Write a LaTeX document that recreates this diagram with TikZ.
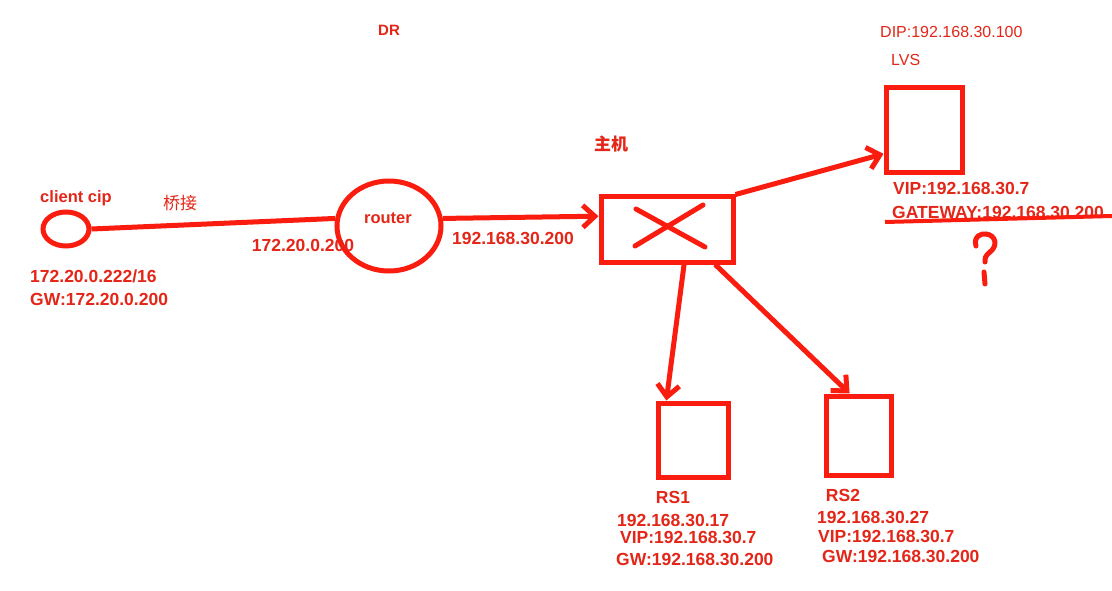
\documentclass[tikz,border=0pt]{standalone}
\usepackage{fontspec}
\setmainfont{Liberation Sans}
\newfontfamily\cjk{Noto Sans CJK SC}
\usetikzlibrary{shapes.geometric,arrows.meta}
\definecolor{lc}{RGB}{250,28,14}
\definecolor{tc}{RGB}{228,38,24}
\begin{document}
\begin{tikzpicture}[x=1pt,y=-1pt,
  wire/.style={draw=lc,line width=5pt},
  arr/.style={wire,-{Straight Barb[length=12pt,width=22pt]}},
  ell/.style={ellipse,draw=lc,line width=5pt,inner sep=0pt},
  box/.style={rectangle,draw=lc,line width=5pt,inner sep=0pt},
  lb/.style={text=tc,font=\fontsize{17.5}{19}\selectfont\bfseries,inner sep=0pt},
  lr/.style={text=tc,font=\fontsize{16}{18}\selectfont,inner sep=0pt},
  lc/.style={text=tc,font=\fontsize{17}{19}\selectfont\cjk,inner sep=0pt}]
\useasboundingbox[fill=white] (0,0) rectangle (1112,591);
% nodes
\node[ell,minimum width=46pt,minimum height=34pt] (client) at (66,229) {};
\node[ell,minimum width=104pt,minimum height=90pt] (router) at (389,226) {};
\node[box,minimum width=132pt,minimum height=65pt] (switch) at (667,229.5) {};
\node[box,minimum width=76pt,minimum height=85pt] (lvs) at (924,130.5) {};
\node[box,minimum width=70pt,minimum height=74pt] (rs1) at (693,440) {};
\node[box,minimum width=65pt,minimum height=79pt] (rs2) at (858.5,435.5) {};
% cross in switch
\coordinate (xa) at (636,209); \coordinate (xb) at (705,247);
\coordinate (xc) at (635,246); \coordinate (xd) at (703,205);
\draw[wire,line cap=round] (xa) -- (xb);
\draw[wire,line cap=round] (xc) -- (xd);
% connectors
\draw[wire] (client.east) -- (router.172);
\draw[arr] (router.8) -- (switch.169);
\draw[arr] (switch.north east) -- (lvs.210);
\draw[arr] (switch.-64) -- (rs1.124);
\draw[arr] (switch.-36) -- (rs2.102);
% labels
\node[lb,font=\fontsize{16.5}{18}\selectfont\bfseries] (tclient) at (76,198) {client cip};
\node[lc] (tbridge) at (180,203) {桥接};
\node[lb,anchor=west] (tcip) at (30,276) {172.20.0.222/16};
\node[lb,anchor=west] (tcgw) at (30,299) {GW:172.20.0.200};
\node[lb] (tr1) at (303,245) {172.20.0.200};
\node[lb,font=\fontsize{16.5}{18}\selectfont\bfseries] (trouter) at (388,218) {router};
\node[lb] (tr2) at (513,238) {192.168.30.200};
\node[lb,font=\fontsize{15}{17}\selectfont\bfseries] (tdr) at (389,30) {DR};
\node[lc,font=\fontsize{17}{19}\selectfont\cjk\bfseries] (thost) at (611,144) {主机};
\node[lr,anchor=west] (tdip) at (880,32) {DIP:192.168.30.100};
\node[lr,anchor=west] (tlvs) at (891,60) {LVS};
\node[lb,anchor=west] (tvip) at (893,188) {VIP:192.168.30.7};
\node[lb,anchor=west] (tgw) at (892,212) {GATEWAY:192.168.30.200};
\coordinate (ula) at (885,222); \coordinate (ulb) at (1112,216);
\draw[wire,line width=4pt] (ula) -- (ulb);
% question mark
\coordinate (qa) at (976,246);
\draw[wire,line cap=round] (qa) .. controls (973,236) and (982,233) .. (986,234)
  .. controls (996,235) and (998,246) .. (990,252) .. controls (985,256) and (985,258) .. (985,262);
\coordinate (qd1) at (984,272); \coordinate (qd2) at (985,284);
\draw[wire,line cap=round] (qd1) -- (qd2);
% RS labels
\node[lb] (trs1) at (673,497) {RS1};
\node[lb,anchor=west] (trs1a) at (617,520) {192.168.30.17};
\node[lb,anchor=west] (trs1b) at (620,537) {VIP:192.168.30.7};
\node[lb,anchor=west] (trs1c) at (616,559) {GW:192.168.30.200};
\node[lb] (trs2) at (843,495) {RS2};
\node[lb,anchor=west] (trs2a) at (817,517) {192.168.30.27};
\node[lb,anchor=west] (trs2b) at (818,536) {VIP:192.168.30.7};
\node[lb,anchor=west] (trs2c) at (822,556) {GW:192.168.30.200};
\end{tikzpicture}
\end{document}
